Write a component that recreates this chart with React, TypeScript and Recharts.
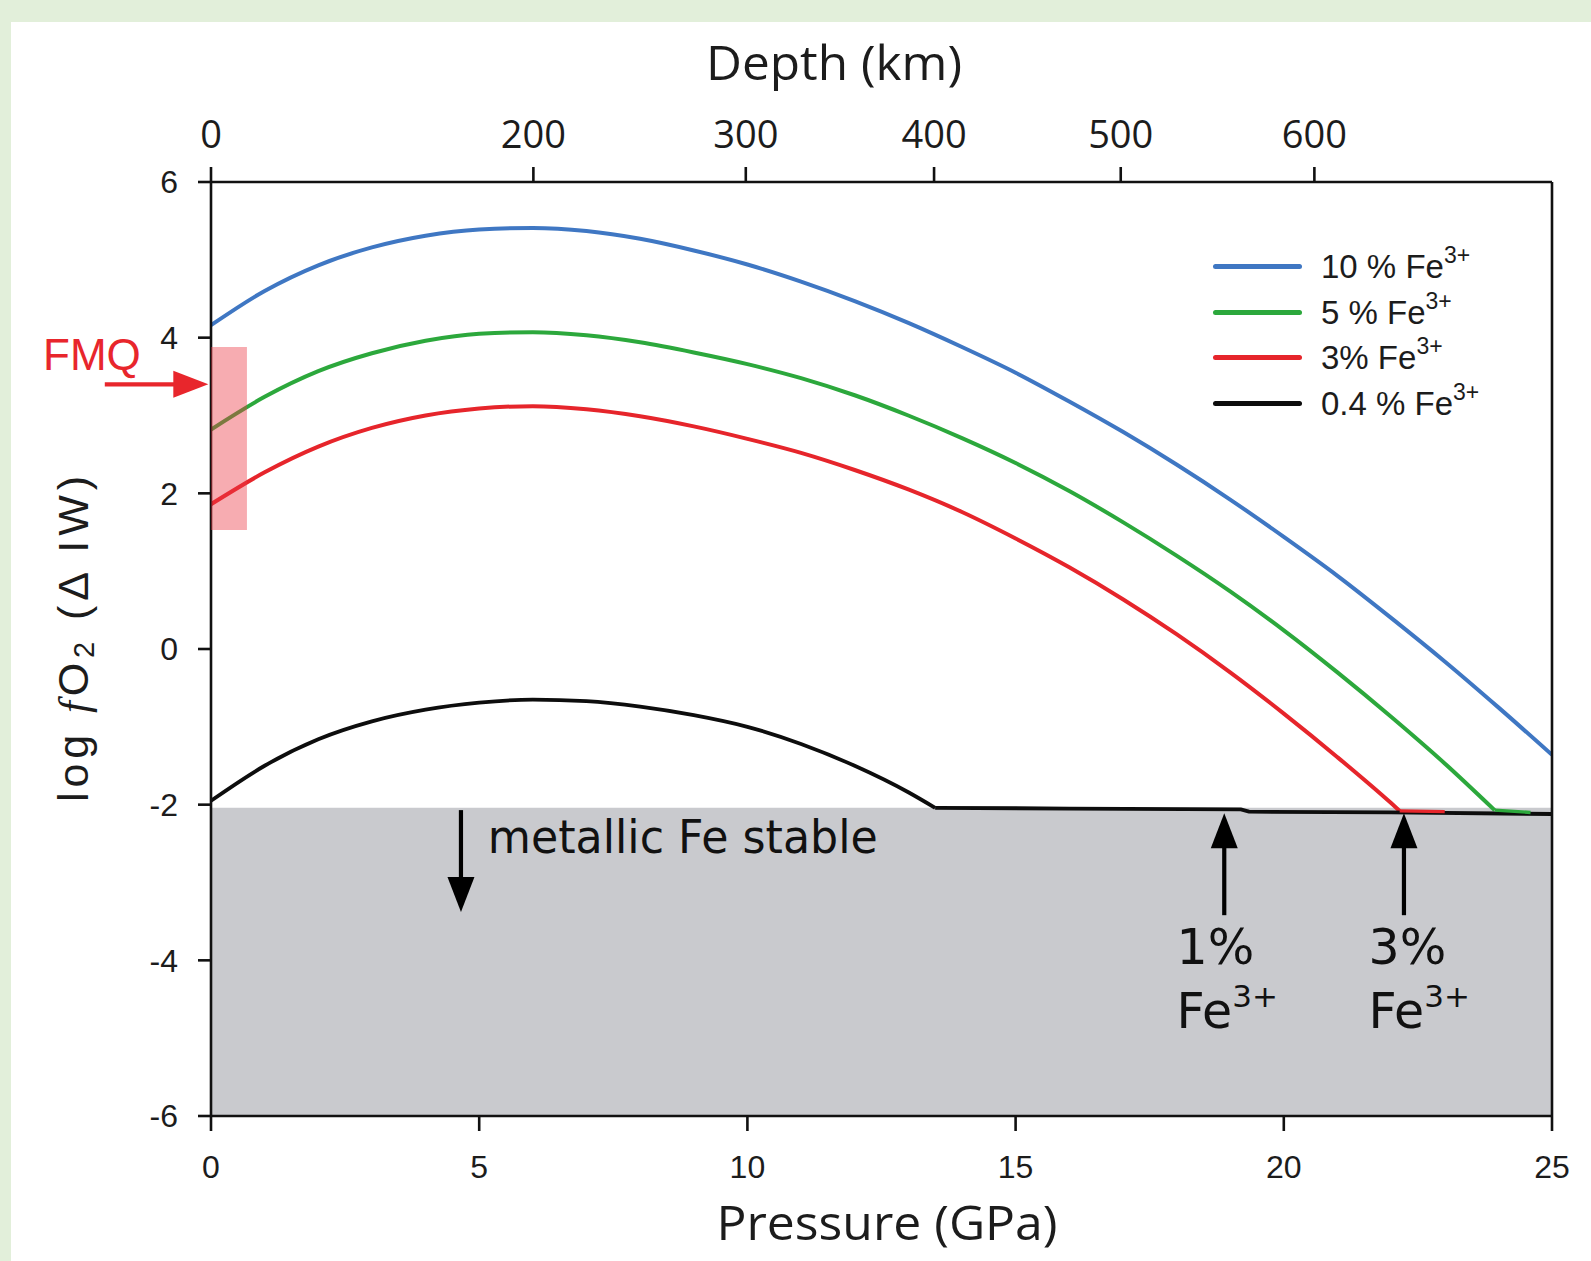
import React from 'react';
import {
  LineChart,
  Line,
  XAxis,
  YAxis,
  Legend,
  ReferenceArea,
  ReferenceLine,
  ReferenceDot,
} from 'recharts';

// ---------- data ----------
const pressure10 = [0, 1, 2, 3, 4, 5, 6, 7, 8, 9, 10, 11, 12, 13, 14, 15, 16, 17, 18, 19, 20, 21, 22, 23, 24, 25];
const logfO2Fe10 = [4.16, 4.6, 4.93, 5.16, 5.31, 5.39, 5.41, 5.37, 5.27, 5.12, 4.94, 4.72, 4.47, 4.19, 3.88, 3.55, 3.18, 2.79, 2.37, 1.92, 1.44, 0.94, 0.4, -0.16, -0.75, -1.36];

const pressure5 = [0, 1, 2, 3, 4, 5, 6, 7, 8, 9, 10, 11, 12, 13, 14, 15, 16, 17, 18, 19, 20, 21, 22, 23, 23.93];
const logfO2Fe5 = [2.82, 3.24, 3.57, 3.8, 3.96, 4.05, 4.07, 4.03, 3.94, 3.81, 3.66, 3.48, 3.26, 3.0, 2.71, 2.39, 2.03, 1.63, 1.2, 0.74, 0.24, -0.3, -0.87, -1.47, -2.07];
const pressure5Floor = [23.93, 24.6];
const logfO2Fe5Floor = [-2.07, -2.1];

const pressure3 = [0, 1, 2, 3, 4, 5, 6, 7, 8, 9, 10, 11, 12, 13, 14, 15, 16, 17, 18, 19, 20, 21, 22, 22.16];
const logfO2Fe3 = [1.86, 2.27, 2.6, 2.84, 3.0, 3.09, 3.12, 3.08, 2.99, 2.86, 2.7, 2.52, 2.3, 2.05, 1.76, 1.42, 1.05, 0.64, 0.19, -0.3, -0.83, -1.39, -1.98, -2.08];
const pressure3Floor = [22.16, 23.0];
const logfO2Fe3Floor = [-2.08, -2.09];

const pressure04 = [0, 1, 2, 3, 4, 5, 6, 7, 8, 9, 10, 11, 12, 13, 13.5];
const logfO2Fe04 = [-1.95, -1.5, -1.16, -0.93, -0.78, -0.69, -0.65, -0.67, -0.74, -0.85, -1.0, -1.22, -1.5, -1.84, -2.04];
const pressure04Floor = [13.5, 16, 19.2, 19.35, 22, 25];
const logfO2Fe04Floor = [-2.04, -2.05, -2.06, -2.09, -2.1, -2.12];

const seriesNames = ['10 % Fe', '5 % Fe', '3% Fe', '0.4 % Fe'];
const seriesColors = ['#3f77c3', '#2ca83c', '#e6252b', '#0d0d0d'];

const pressureTicks = [0, 5, 10, 15, 20, 25];
const logfO2Ticks = [6, 4, 2, 0, -2, -4, -6];
const depthTickKm = [0, 200, 300, 400, 500, 600];
const depthTickPressure = [0, 6.01, 9.97, 13.48, 16.96, 20.57];

// FMQ buffer range and metallic Fe field
const fmqRange = { p1: 0, p2: 0.67, v1: 1.53, v2: 3.88 };
const ironWustiteLimit = -2.04;

const toPoints = (xs: number[], ys: number[]) => xs.map((p, i) => ({ p, v: ys[i] }));
const seriesCurves = [
  toPoints(pressure10, logfO2Fe10),
  toPoints(pressure5, logfO2Fe5),
  toPoints(pressure3, logfO2Fe3),
  toPoints(pressure04, logfO2Fe04),
];
const seriesFloors = [
  null,
  toPoints(pressure5Floor, logfO2Fe5Floor),
  toPoints(pressure3Floor, logfO2Fe3Floor),
  toPoints(pressure04Floor, logfO2Fe04Floor),
];
// anchors the depth scale (no visible mark)
const depthAxisAnchor = depthTickPressure.map((p, i) => ({ p, v: null as number | null, km: depthTickKm[i] }));

// ---------- styling helpers ----------
const SANS = '"Liberation Sans", Arial, sans-serif';
const OPEN = '"Open Sans", "Liberation Sans", sans-serif';
const DEJAVU = '"DejaVu Sans", Verdana, sans-serif';
const INK = '#1c1c1c';
const FMQ_RED = '#e8262c';

const makeArrow = (color: string) => (props: any) => {
  const { x1, y1, x2, y2 } = props;
  if ([x1, y1, x2, y2].some((v) => typeof v !== 'number' || isNaN(v))) return <g />;
  const dx = x2 - x1;
  const dy = y2 - y1;
  const len = Math.hypot(dx, dy) || 1;
  const ux = dx / len;
  const uy = dy / len;
  const headLen = 35;
  const half = 13.5;
  const bx = x2 - ux * headLen;
  const by = y2 - uy * headLen;
  const px = -uy;
  const py = ux;
  return (
    <g>
      <line x1={x1} y1={y1} x2={bx + ux * 2} y2={by + uy * 2} stroke={color} strokeWidth={4.2} />
      <polygon
        points={`${x2},${y2} ${bx + px * half},${by + py * half} ${bx - px * half},${by - py * half}`}
        fill={color}
      />
    </g>
  );
};

const renderLegend = () => (
  <div style={{ fontFamily: SANS, fontSize: 33, color: INK }}>
    {seriesNames.map((n, i) => (
      <div key={n} style={{ display: 'flex', alignItems: 'center', height: 45.6 }}>
        <div
          style={{
            width: 89,
            height: 5,
            background: seriesColors[i],
            borderRadius: 2.5,
            marginRight: 19,
          }}
        />
        <span style={{ lineHeight: 1, whiteSpace: 'nowrap' }}>
          {n}
          <span style={{ fontSize: 23, position: 'relative', top: -15 }}>3+</span>
        </span>
      </div>
    ))}
  </div>
);

const bottomTitle = (props: any) => {
  const vb = props.viewBox || { x: 211, y: 1116, width: 1341, height: 100 };
  const cx = vb.x + vb.width / 2 + 5.5;
  return (
    <text
      x={cx}
      y={vb.y + 124}
      textAnchor="middle"
      fontFamily={OPEN}
      fontSize={47}
      fill={INK}
      textLength={341}
      lengthAdjust="spacingAndGlyphs"
    >
      Pressure (GPa)
    </text>
  );
};

const topTitle = (props: any) => {
  const vb = props.viewBox || { x: 211, y: 82, width: 1341, height: 100 };
  const cx = vb.x + vb.width / 2 - 47.5;
  return (
    <text
      x={cx}
      y={vb.y - 2}
      textAnchor="middle"
      fontFamily={OPEN}
      fontSize={47}
      fill={INK}
      textLength={256}
      lengthAdjust="spacingAndGlyphs"
    >
      Depth (km)
    </text>
  );
};

const leftTitle = (props: any) => {
  const vb = props.viewBox || { x: 111, y: 181.6, width: 100, height: 934.4 };
  const cx = vb.x - 38;
  const cy = vb.y + vb.height / 2 - 10;
  return (
    <text
      x={cx}
      y={cy}
      transform={`rotate(-90, ${cx}, ${cy})`}
      textAnchor="middle"
      dominantBaseline="central"
      fontFamily={SANS}
      fontSize={43}
      fill={INK}
      textLength={326}
      lengthAdjust="spacing"
    >
      log{' '}
      <tspan fontFamily='"Liberation Serif", serif' fontStyle="italic">
        f
      </tspan>
      O
      <tspan fontSize={29} dy={11}>
        2
      </tspan>
      <tspan dy={-11}> (Δ IW)</tspan>
    </text>
  );
};

const axisStroke = { stroke: '#111', strokeWidth: 2.6 };

export default function App() {
  return (
    <div
      style={{
        position: 'absolute',
        left: 0,
        top: 0,
        width: 1591,
        height: 1261,
        background: '#e2efda',
        fontFamily: SANS,
        overflow: 'hidden',
      }}
    >
      <div
        style={{
          position: 'absolute',
          left: 11,
          top: 22,
          width: 1580,
          height: 1239,
          background: '#ffffff',
        }}
      />
      <div style={{ position: 'absolute', left: 0, top: 0 }}>
        <LineChart
          width={1591}
          height={1261}
          margin={{ top: 82, right: 39, bottom: 45, left: 111 }}
        >
          <XAxis
            xAxisId={0}
            dataKey="p"
            type="number"
            domain={[0, 25]}
            ticks={pressureTicks}
            interval={0}
            allowDataOverflow
            height={100}
            tickSize={15}
            tickMargin={24}
            axisLine={axisStroke}
            tickLine={axisStroke}
            tick={{ fill: INK, fontSize: 32, fontFamily: SANS }}
            label={bottomTitle}
          />
          <XAxis
            xAxisId="top"
            orientation="top"
            dataKey="p"
            type="number"
            domain={[0, 25]}
            ticks={depthTickPressure}
            tickFormatter={(v: number) => {
              const i = depthTickPressure.indexOf(v);
              return i >= 0 ? String(depthTickKm[i]) : '';
            }}
            interval={0}
            allowDataOverflow
            height={100}
            tickSize={15}
            tickMargin={19}
            axisLine={axisStroke}
            tickLine={axisStroke}
            tick={{ fill: INK, fontSize: 38, fontFamily: OPEN }}
            label={topTitle}
          />
          <YAxis
            type="number"
            domain={[-6, 6]}
            ticks={logfO2Ticks}
            interval={0}
            allowDataOverflow
            width={100}
            tickSize={13}
            tickMargin={20}
            axisLine={axisStroke}
            tickLine={axisStroke}
            tick={{ fill: INK, fontSize: 32, fontFamily: SANS }}
            label={leftTitle}
          />

          {/* metallic Fe stability field */}
          <ReferenceArea
            x1={0}
            x2={25}
            y1={-6}
            y2={ironWustiteLimit}
            fill="#c9cace"
            fillOpacity={1}
            stroke="none"
            ifOverflow="visible"
          />

          <Line
            xAxisId="top"
            data={depthAxisAnchor}
            dataKey="v"
            stroke="none"
            dot={false}
            activeDot={false}
            legendType="none"
            isAnimationActive={false}
          />

          {[3, 2, 1, 0].map((i) => (
            <Line
              key={seriesNames[i]}
              data={seriesCurves[i]}
              dataKey="v"
              name={seriesNames[i]}
              type="monotone"
              stroke={seriesColors[i]}
              strokeWidth={i === 3 ? 3.8 : 4}
              dot={false}
              activeDot={false}
              isAnimationActive={false}
            />
          ))}
          {[3, 2, 1].map((i) => (
            <Line
              key={seriesNames[i] + ' floor'}
              data={seriesFloors[i] as any}
              dataKey="v"
              name={seriesNames[i] + ' floor'}
              type="linear"
              stroke={seriesColors[i]}
              strokeWidth={i === 3 ? 3.8 : 3.4}
              dot={false}
              activeDot={false}
              legendType="none"
              isAnimationActive={false}
            />
          ))}

          {/* FMQ band */}
          <ReferenceArea
            x1={fmqRange.p1}
            x2={fmqRange.p2}
            y1={fmqRange.v1}
            y2={fmqRange.v2}
            fill="#ec3a44"
            fillOpacity={0.42}
            stroke="none"
            ifOverflow="visible"
            zIndex={1000}
          />

          {/* right frame */}
          <ReferenceLine x={25} stroke="#111" strokeWidth={2.6} ifOverflow="visible" />

          {/* FMQ arrow and label */}
          <ReferenceLine
            segment={[
              { x: -1.98, y: 3.4 },
              { x: -0.05, y: 3.4 },
            ]}
            ifOverflow="visible"
            shape={makeArrow(FMQ_RED)}
          />
          <ReferenceDot
            x={-3.13}
            y={3.4}
            ifOverflow="visible"
            shape={(p: any) => (
              <text x={p.cx} y={p.cy - 14} fontFamily={SANS} fontSize={44} fill={FMQ_RED}>
                FMQ
              </text>
            )}
          />

          {/* metallic Fe stable */}
          <ReferenceLine
            segment={[
              { x: 4.66, y: -2.07 },
              { x: 4.66, y: -3.38 },
            ]}
            ifOverflow="visible"
            shape={makeArrow('#000')}
          />
          <ReferenceDot
            x={5.16}
            y={-2.62}
            ifOverflow="visible"
            shape={(p: any) => (
              <text
                x={p.cx}
                y={p.cy}
                fontFamily={DEJAVU}
                fontSize={46}
                fill="#111"
                textLength={390}
                lengthAdjust="spacingAndGlyphs"
              >
                metallic Fe stable
              </text>
            )}
          />

          {/* 1% and 3% Fe3+ markers */}
          <ReferenceLine
            segment={[
              { x: 18.89, y: -3.42 },
              { x: 18.89, y: -2.11 },
            ]}
            ifOverflow="visible"
            shape={makeArrow('#000')}
          />
          <ReferenceLine
            segment={[
              { x: 22.24, y: -3.42 },
              { x: 22.24, y: -2.11 },
            ]}
            ifOverflow="visible"
            shape={makeArrow('#000')}
          />
          {[
            { p: 18.0, label: '1%' },
            { p: 21.58, label: '3%' },
          ].map((a) => (
            <ReferenceDot
              key={a.label}
              x={a.p}
              y={-4.05}
              ifOverflow="visible"
              shape={(p: any) => (
                <g fontFamily={DEJAVU} fill="#111">
                  <text x={p.cx} y={p.cy} fontSize={49}>
                    {a.label}
                  </text>
                  <text x={p.cx} y={p.cy + 64} fontSize={49}>
                    Fe
                    <tspan fontSize={31} dy={-21}>
                      3+
                    </tspan>
                  </text>
                </g>
              )}
            />
          ))}

          <Legend
            content={renderLegend}
            layout="vertical"
            align="center"
            verticalAlign="middle"
            wrapperStyle={{ position: 'absolute', left: 1213, top: 244, width: 360 }}
          />
        </LineChart>
      </div>
    </div>
  );
}
